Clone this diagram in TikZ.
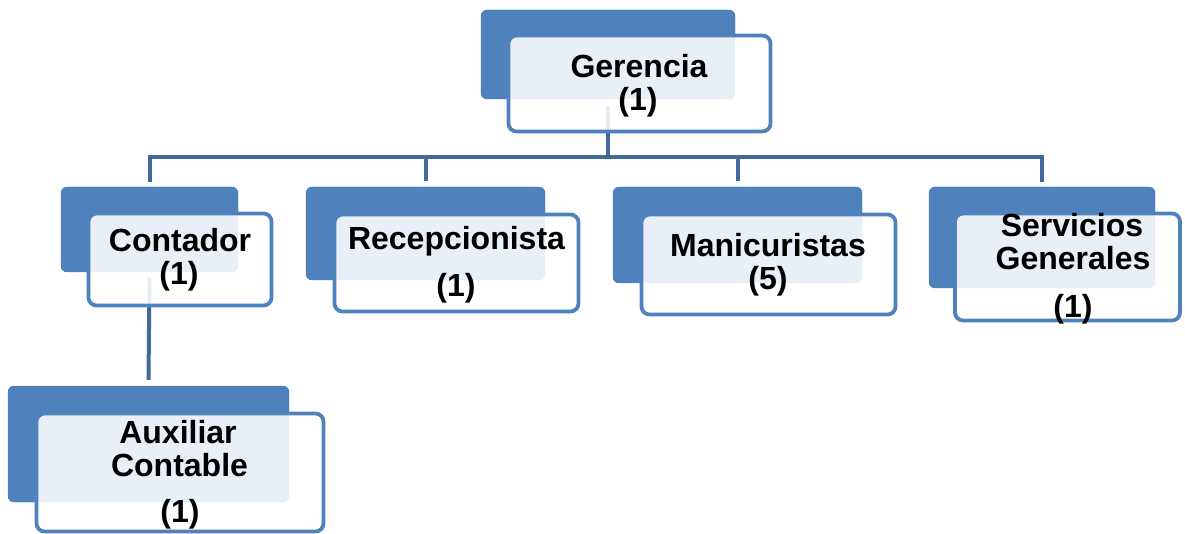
\documentclass[tikz,border=0pt]{standalone}
\usepackage{fontspec}
\setmainfont{Liberation Sans}
\definecolor{backblue}{HTML}{4F81BD}
\definecolor{edgeblue}{HTML}{4F81BD}
\definecolor{connblue}{HTML}{41699C}
\tikzset{
  backbox/.style={draw=none, fill=backblue, rounded corners=6pt, inner sep=0pt},
  frontbox/.style={draw=edgeblue, line width=3.8pt, fill=white, fill opacity=0.88, rounded corners=8pt, inner sep=0pt},
  lbl/.style={anchor=base, inner sep=0pt, font=\fontsize{32}{33}\selectfont\bfseries, text=black},
  conn/.style={draw=connblue, line width=4pt, line join=miter}
}
\begin{document}
\begin{tikzpicture}[x=1pt,y=-1pt]
\useasboundingbox (0,0) rectangle (1185,534);
\path
  (608,54.5) node[backbox, minimum width=254pt, minimum height=89pt] (gerB) {}
  (149.5,229.5) node[backbox, minimum width=177pt, minimum height=85pt] (conB) {}
  (425.5,233.5) node[backbox, minimum width=239pt, minimum height=93pt] (recB) {}
  (737.5,235) node[backbox, minimum width=249pt, minimum height=96pt] (manB) {}
  (1042,237.5) node[backbox, minimum width=226pt, minimum height=101pt] (serB) {}
  (148.5,444) node[backbox, minimum width=281pt, minimum height=116pt] (auxB) {};
% connectors
\coordinate (busL) at (conB.north |- 0,157);
\coordinate (busR) at (serB.north |- 0,157);
\draw[conn] ([yshift=-7pt]gerB.south) -- (gerB.south |- busL);
\draw[conn] ([yshift=5pt]conB.north) -- (busL) -- (busR) -- ([yshift=5pt]serB.north);
\draw[conn] (recB.north |- busL) -- ([yshift=6pt]recB.north);
\draw[conn] (manB.north |- busL) -- ([yshift=6pt]manB.north);
\draw[conn] ([yshift=-6pt]conB.south) -- ([yshift=6pt]auxB.north);
% back boxes over connectors
\foreach \n in {gerB,conB,recB,manB,serB,auxB}{
  \fill[backblue, rounded corners=6pt] (\n.south west) rectangle (\n.north east);
}
% front boxes
\path
  (639.5,83.5) node[frontbox, minimum width=262pt, minimum height=96pt] (gerF) {}
  (180,259.5) node[frontbox, minimum width=183pt, minimum height=92pt] (conF) {}
  (456.5,263) node[frontbox, minimum width=244pt, minimum height=97pt] (recF) {}
  (768.5,264.5) node[frontbox, minimum width=254pt, minimum height=100pt] (manF) {}
  (1067.5,267) node[frontbox, minimum width=225pt, minimum height=107pt] (serF) {}
  (180,472.5) node[frontbox, minimum width=287pt, minimum height=118pt] (auxF) {};
% labels
\node[lbl] (t1) at (639,78) {Gerencia};
\node[lbl] (t2) at (638,111) {(1)};
\node[lbl] (t3) at (180,252) {Contador};
\node[lbl] (t4) at (179,285) {(1)};
\node[lbl] (t5) at (456.5,250) {Recepcionista};
\node[lbl] (t6) at (456,297) {(1)};
\node[lbl] (t7) at (768,257) {Manicuristas};
\node[lbl] (t8) at (768,290) {(5)};
\node[lbl] (t9) at (1072,237) {Servicios};
\node[lbl] (t10) at (1073,270) {Generales};
\node[lbl] (t11) at (1073,317) {(1)};
\node[lbl] (t12) at (178,443) {Auxiliar};
\node[lbl] (t13) at (179.5,476) {Contable};
\node[lbl] (t14) at (180,522) {(1)};
\end{tikzpicture}
\end{document}
